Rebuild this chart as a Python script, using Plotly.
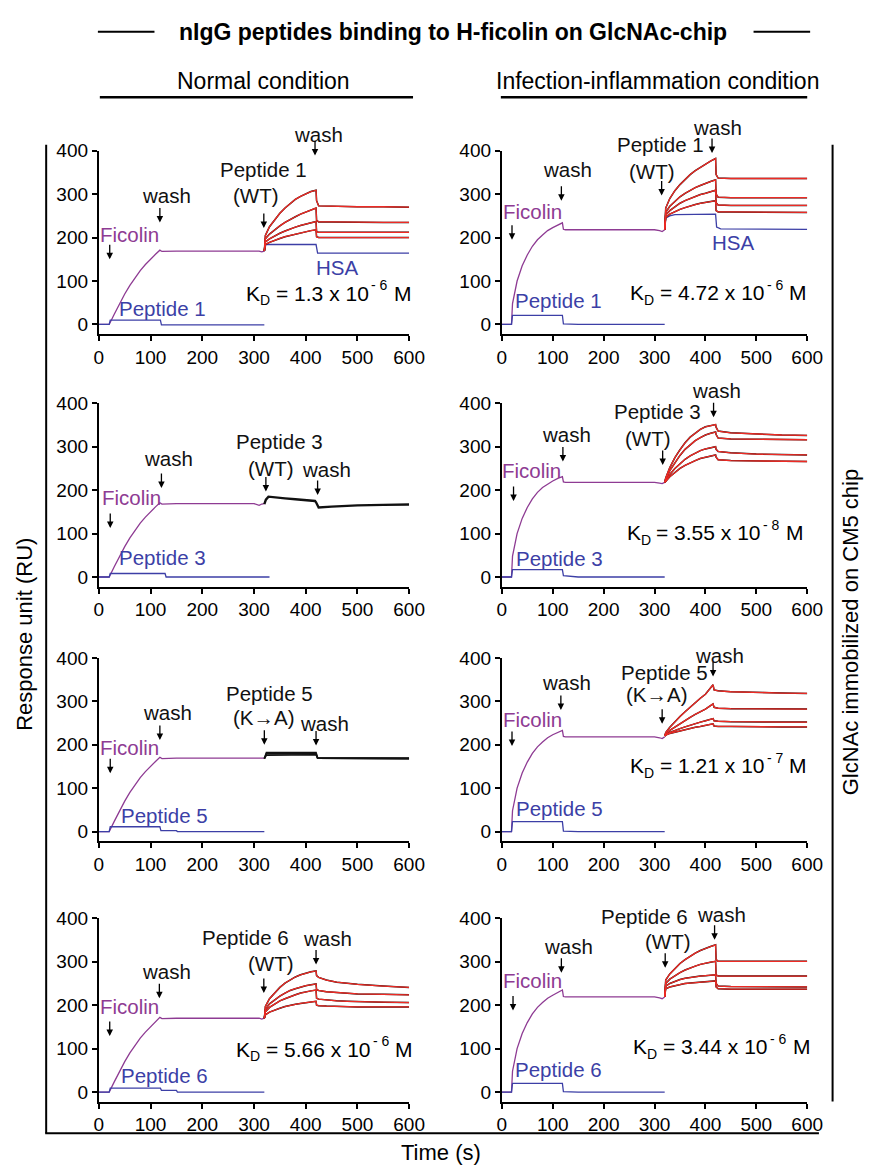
import plotly.graph_objects as go

# ---------------- data ----------------
TIME_TICKS = [0, 100, 200, 300, 400, 500, 600]
RU_TICKS = [0, 100, 200, 300, 400]

T_FIC_N = [0, 20, 30, 40, 50, 60, 70, 80, 90, 100, 110, 118, 122, 150, 200, 250, 300, 310, 315, 320]
FIC_N1 = [0, 0, 24, 48, 70, 90, 108, 124, 138, 151, 162, 171, 168, 169, 169, 169, 169, 169, 167, 169]
FIC_N2 = [0, 0, 24, 48, 70, 90, 108, 124, 138, 151, 162, 171, 168, 169, 169, 169, 169, 165, 168, 169]
FIC_N3 = [0, 0, 24, 48, 70, 90, 108, 124, 138, 151, 162, 171, 168, 169, 169, 169, 169, 169, 168, 169]
FIC_N4 = [0, 0, 24, 48, 70, 90, 108, 124, 138, 151, 162, 172, 169, 170, 170, 170, 170, 170, 168, 170]

T_FIC_I = [0, 19, 21, 25, 30, 40, 50, 60, 70, 80, 90, 100, 110, 119, 121, 125, 150, 200, 250, 300, 310, 315, 320]
FIC_I1 = [0, 0, 48, 75, 100, 135, 160, 180, 195, 206, 216, 223, 229, 234, 219, 218, 218, 218, 218, 218, 216, 214, 218]
FIC_I2 = [0, 0, 48, 75, 100, 135, 160, 180, 195, 206, 214, 221, 227, 231, 219, 218, 218, 218, 218, 218, 216, 215, 218]
FIC_I3 = [0, 0, 48, 75, 100, 135, 160, 180, 195, 206, 216, 223, 229, 233, 219, 218, 218, 218, 218, 218, 216, 214, 218]
FIC_I4 = [0, 0, 48, 75, 100, 135, 160, 180, 195, 206, 216, 223, 230, 235, 220, 219, 219, 219, 219, 219, 217, 215, 219]

T_PEP_N1 = [0, 20, 22, 119, 121, 320]
PEP_N1 = [0, 0, 10, 10, -1, -1]
T_PEP_N2 = [0, 20, 22, 128, 130, 330]
PEP_N2 = [0, 0, 8, 8, 0, 0]
T_PEP_N3 = [0, 20, 22, 118, 120, 150, 152, 320]
PEP_N3 = [0, 0, 11, 11, 2, 2, 0, 0]
T_PEP_N4 = [0, 20, 22, 119, 121, 150, 152, 320]
PEP_N4 = [0, 0, 9, 9, 4, 4, 0, 0]
T_PEP_I = [0, 19, 21, 119, 121, 150, 320]
PEP_I1 = [0, 0, 21, 21, 1, 0, 0]
PEP_I2 = [0, 0, 17, 17, 3, 0, 0]
PEP_I3 = [0, 0, 23, 23, 1, 0, 0]
PEP_I4 = [0, 0, 20, 20, 1, 0, 0]

T_HSA_N1 = [320, 323, 420, 423, 600]
HSA_N1 = [169, 184, 184, 164, 164]
T_HSA_I1 = [320, 322, 330, 340, 420, 422, 430, 600]
HSA_I1 = [218, 245, 250, 253, 254, 224, 220, 219]

T_PEP = [320, 322, 330, 340, 350, 360, 370, 380, 390, 400, 410, 420, 421, 425, 450, 500, 550, 600]
N1_C1 = [169, 205, 225, 242, 256, 268, 279, 288, 295, 301, 306, 309, 285, 273, 272, 271, 271, 270]
N1_C2 = [169, 197, 208, 218, 227, 235, 242, 248, 254, 259, 264, 268, 240, 236, 236, 235, 235, 235]
N1_C3 = [169, 190, 197, 204, 210, 215, 220, 224, 228, 231, 234, 237, 214, 212, 212, 212, 212, 212]
N1_C4 = [169, 184, 189, 194, 198, 202, 205, 208, 211, 213, 216, 218, 202, 200, 200, 200, 200, 200]

T_N2 = [320, 323, 328, 340, 360, 380, 400, 418, 420, 425, 450, 500, 550, 600]
N2_D = [168, 178, 185, 183, 181, 179, 177, 175, 172, 160, 162, 165, 166, 167]

T_N3 = [320, 322, 324, 420, 423, 600]
N3_D1 = [168, 176, 182, 182, 170, 169]
N3_D2 = [168, 175, 179, 179, 169, 168]
N3_D3 = [168, 174, 176, 177, 169, 168]

T_N4 = [320, 322, 330, 340, 350, 360, 370, 380, 390, 400, 410, 420, 421, 425, 440, 460, 480, 500, 550, 600]
N4_C1 = [170, 197, 215, 229, 241, 251, 259, 265, 270, 274, 277, 279, 268, 264, 258, 253, 250, 248, 244, 241]
N4_C2 = [170, 190, 203, 213, 221, 228, 234, 238, 242, 245, 247, 249, 236, 234, 231, 229, 227, 226, 225, 224]
N4_C3 = [170, 185, 195, 203, 210, 215, 220, 224, 228, 231, 233, 235, 216, 214, 212, 210, 209, 208, 207, 206]
N4_C4 = [170, 178, 184, 189, 193, 197, 200, 202, 204, 206, 208, 209, 200, 199, 198, 197, 197, 196, 196, 196]

I1_C1 = [218, 268, 290, 308, 322, 334, 345, 354, 362, 370, 376, 382, 345, 337, 336, 336, 336, 336]
I1_C2 = [218, 258, 272, 284, 294, 302, 309, 315, 320, 325, 329, 333, 300, 293, 292, 292, 292, 292]
I1_C3 = [218, 252, 262, 271, 279, 285, 290, 295, 299, 302, 306, 309, 280, 275, 274, 274, 274, 274]
I1_C4 = [218, 246, 254, 260, 265, 269, 273, 276, 279, 281, 283, 285, 262, 259, 259, 259, 258, 258]

I2_C1 = [218, 228, 252, 275, 293, 309, 322, 332, 340, 346, 349, 351, 345, 336, 332, 329, 327, 326]
I2_C2 = [218, 225, 245, 264, 280, 294, 305, 314, 321, 327, 331, 334, 328, 320, 318, 317, 316, 316]
I2_C3 = [218, 222, 236, 250, 261, 271, 279, 286, 291, 295, 298, 300, 294, 289, 286, 283, 282, 281]
I2_C4 = [218, 220, 231, 241, 250, 257, 263, 268, 273, 276, 279, 281, 276, 270, 268, 267, 266, 266]

T_I3 = [320, 322, 330, 340, 350, 360, 370, 380, 390, 400, 410, 415, 417, 425, 450, 500, 550, 600]
I3_C1 = [220, 228, 240, 253, 265, 276, 287, 297, 307, 316, 330, 338, 326, 324, 322, 320, 319, 318]
I3_C2 = [220, 225, 233, 241, 249, 256, 263, 270, 276, 282, 290, 294, 286, 284, 283, 283, 282, 282]
I3_C3 = [220, 223, 228, 233, 237, 241, 245, 249, 252, 255, 258, 260, 255, 254, 253, 252, 252, 252]
I3_C4 = [220, 222, 226, 229, 232, 235, 238, 240, 242, 244, 246, 248, 243, 242, 242, 241, 241, 241]

I4_C1 = [219, 258, 272, 285, 296, 305, 313, 320, 326, 331, 335, 339, 305, 301, 301, 301, 301, 301]
I4_C2 = [219, 250, 260, 268, 275, 281, 286, 290, 294, 297, 299, 301, 270, 267, 267, 267, 267, 267]
I4_C3 = [219, 244, 250, 255, 259, 262, 264, 266, 267, 268, 269, 270, 250, 244, 243, 243, 242, 242]
I4_C4 = [219, 238, 242, 245, 248, 250, 251, 252, 253, 254, 255, 256, 242, 238, 237, 237, 237, 237]

# K_D values: (mantissa, exponent)
KD_N1 = ("1.3", "6")
KD_N4 = ("5.66", "6")
KD_I1 = ("4.72", "6")
KD_I2 = ("3.55", "8")
KD_I3 = ("1.21", "7")
KD_I4 = ("3.44", "6")

# ---------------- styling ----------------
PAGE_MARGIN = 8
W, H = 880 - 2 * PAGE_MARGIN, 1173 - 2 * PAGE_MARGIN
FONT = "Arial, Liberation Sans, Helvetica, sans-serif"
PURPLE = "#8E3B93"
BLUE = "#3C3FA6"
RED = "#EE2A24"
BLACK = "#111111"
ANN_SIZE = 20.5
KD_SIZE, KD_SMALL = 21, 14

COLS_PX = [(96, 414), (509, 822)]
ROWS_PX = [(142, 327), (397, 582), (654, 839), (917, 1102)]
Y_LO, Y_HI = -22, 400
PX_PER_RU = (327 - 142) / (Y_HI - Y_LO)

# Arial / Liberation Sans advance widths (em)
CHAR_W = {"K": .667, "D": .722, " ": .278, "=": .584, ".": .278, "x": .5, "-": .333, "M": .833}


def text_w(s, size):
    return sum(CHAR_W.get(ch, .556) for ch in s) * size


def px(xp):
    return (xp - PAGE_MARGIN) / W


def py(yp):
    return 1 - (yp - PAGE_MARGIN) / H


fig = go.Figure()

panels = [
    dict(r=0, c=0, ft=T_FIC_N, fy=FIC_N1, pt=T_PEP_N1, py_=PEP_N1,
         curves=[(T_PEP, N1_C1), (T_PEP, N1_C2), (T_PEP, N1_C3), (T_PEP, N1_C4)], fit=True,
         hsa=(T_HSA_N1, HSA_N1)),
    dict(r=1, c=0, ft=T_FIC_N, fy=FIC_N2, pt=T_PEP_N2, py_=PEP_N2,
         curves=[(T_N2, N2_D)], fit=False, hsa=None, bw=2.4),
    dict(r=2, c=0, ft=T_FIC_N, fy=FIC_N3, pt=T_PEP_N3, py_=PEP_N3,
         curves=[(T_N3, N3_D1), (T_N3, N3_D2), (T_N3, N3_D3)], fit=False, hsa=None, bw=1.6),
    dict(r=3, c=0, ft=T_FIC_N, fy=FIC_N4, pt=T_PEP_N4, py_=PEP_N4,
         curves=[(T_N4, N4_C1), (T_N4, N4_C2), (T_N4, N4_C3), (T_N4, N4_C4)], fit=True, hsa=None),
    dict(r=0, c=1, ft=T_FIC_I, fy=FIC_I1, pt=T_PEP_I, py_=PEP_I1,
         curves=[(T_PEP, I1_C1), (T_PEP, I1_C2), (T_PEP, I1_C3), (T_PEP, I1_C4)], fit=True,
         hsa=(T_HSA_I1, HSA_I1)),
    dict(r=1, c=1, ft=T_FIC_I, fy=FIC_I2, pt=T_PEP_I, py_=PEP_I2,
         curves=[(T_PEP, I2_C1), (T_PEP, I2_C2), (T_PEP, I2_C3), (T_PEP, I2_C4)], fit=True, hsa=None),
    dict(r=2, c=1, ft=T_FIC_I, fy=FIC_I3, pt=T_PEP_I, py_=PEP_I3,
         curves=[(T_I3, I3_C1), (T_I3, I3_C2), (T_I3, I3_C3), (T_I3, I3_C4)], fit=True, hsa=None),
    dict(r=3, c=1, ft=T_FIC_I, fy=FIC_I4, pt=T_PEP_I, py_=PEP_I4,
         curves=[(T_PEP, I4_C1), (T_PEP, I4_C2), (T_PEP, I4_C3), (T_PEP, I4_C4)], fit=True, hsa=None),
]

ANN = {
    (0, 0): dict(texts=[("Ficolin", 60, 208, PURPLE), ("wash", 130, 296, BLACK), ("Peptide 1", 318, 357, BLACK),
                        ("(WT)", 303, 296, BLACK), ("wash", 425, 438, BLACK), ("HSA", 460, 131, BLUE),
                        ("Peptide 1", 123, 36, BLUE)],
                 arrows=[(21, 150), (118, 235), (319, 222), (418, 389)], kd=(KD_N1, 441, 72)),
    (1, 0): dict(texts=[("Ficolin", 63, 182, PURPLE), ("wash", 134, 274, BLACK), ("Peptide 3", 349, 312, BLACK),
                        ("(WT)", 333, 251, BLACK), ("wash", 440, 247, BLACK), ("Peptide 3", 124, 44, BLUE)],
                 arrows=[(22, 113), (121, 205), (323, 197), (423, 189)], kd=None),
    (2, 0): dict(texts=[("Ficolin", 60, 194, PURPLE), ("wash", 133, 275, BLACK), ("Peptide 5", 330, 317, BLACK),
                        ("(K\u2192A)", 319, 263, BLACK), ("wash", 436, 248, BLACK), ("Peptide 5", 127, 37, BLUE)],
                 arrows=[(22, 134), (118, 211), (320, 200), (420, 198)], kd=None),
    (3, 0): dict(texts=[("Ficolin", 60, 197, PURPLE), ("wash", 131, 277, BLACK), ("Peptide 6", 284, 357, BLACK),
                        ("(WT)", 333, 296, BLACK), ("wash", 442, 353, BLACK), ("Peptide 6", 127, 38, BLUE)],
                 arrows=[(21, 129), (117, 216), (319, 228), (420, 294)], kd=(KD_N4, 432, 99)),
    (0, 1): dict(texts=[("Ficolin", 60, 261, PURPLE), ("wash", 129, 356, BLACK), ("Peptide 1", 311, 414, BLACK),
                        ("(WT)", 296, 352, BLACK), ("wash", 424, 454, BLACK), ("HSA", 455, 188, BLUE),
                        ("Peptide 1", 112, 54, BLUE)],
                 arrows=[(20, 195), (117, 285), (314, 297), (413, 395)], kd=(KD_I1, 421, 73)),
    (1, 1): dict(texts=[("Ficolin", 59, 245, PURPLE), ("wash", 128, 329, BLACK), ("Peptide 3", 305, 380, BLACK),
                        ("(WT)", 288, 319, BLACK), ("wash", 421, 429, BLACK), ("Peptide 3", 114, 42, BLUE)],
                 arrows=[(23, 175), (120, 266), (316, 258), (416, 368)], kd=(KD_I2, 415, 102)),
    (2, 1): dict(texts=[("Ficolin", 60, 258, PURPLE), ("wash", 127, 343, BLACK), ("Peptide 5", 319, 366, BLACK),
                        ("(K\u2192A)", 305, 315, BLACK), ("wash", 427, 406, BLACK), ("Peptide 5", 113, 52, BLUE)],
                 arrows=[(20, 197), (116, 280), (315, 248), (415, 357)], kd=(KD_I3, 421, 151)),
    (3, 1): dict(texts=[("Ficolin", 61, 256, PURPLE), ("wash", 131, 336, BLACK), ("Peptide 6", 280, 404, BLACK),
                        ("(WT)", 327, 347, BLACK), ("wash", 431, 408, BLACK), ("Peptide 6", 111, 51, BLUE)],
                 arrows=[(22, 188), (117, 275), (321, 286), (418, 351)], kd=(KD_I4, 428, 104)),
}


def text_ann(txt, tx, ty, xa, ya, col, size, xanchor="center", xshift=0.0, yshift=0.0):
    yy = min(ty, Y_HI - 2)
    shift = (ty - yy) * PX_PER_RU + yshift
    return dict(text=txt, x=tx, y=yy, xshift=xshift, yshift=shift, xref=xa, yref=ya, showarrow=False,
                xanchor=xanchor, yanchor="middle", font=dict(family=FONT, size=size, color=col))


def kd_anns(kd, kx, ky, xa, ya):
    mant, expo = kd
    parts = [("K", KD_SIZE, 0, 0), ("D", KD_SMALL, -7, 0), ("= " + mant + " x 10", KD_SIZE, 0, 0.278 * KD_SIZE),
             ("- " + expo, KD_SMALL, 8, 0.12 * KD_SIZE), ("M", KD_SIZE, 0, 0.3 * KD_SIZE)]
    total = sum(text_w(s, sz) + gap for (s, sz, _, gap) in parts)
    pos = -total / 2
    out = []
    for (s, sz, dy, gap) in parts:
        pos += gap
        out.append(text_ann(s, kx, ky, xa, ya, "black", sz, xanchor="left", xshift=pos, yshift=dy))
        pos += text_w(s, sz)
    return out


annotations = []
layout_axes = {}
for i, p in enumerate(panels):
    n = i + 1
    xa = "x" if n == 1 else f"x{n}"
    ya = "y" if n == 1 else f"y{n}"
    xk = "xaxis" if n == 1 else f"xaxis{n}"
    yk = "yaxis" if n == 1 else f"yaxis{n}"
    (x0p, x1p) = COLS_PX[p["c"]]
    (y0p, y1p) = ROWS_PX[p["r"]]
    common = dict(showgrid=False, zeroline=False, showline=True, linecolor="black", linewidth=2,
                  ticks="outside", ticklen=5, tickwidth=2, tickcolor="black",
                  tickfont=dict(family=FONT, size=19, color="black"))
    layout_axes[xk] = dict(domain=[px(x0p), px(x1p)], range=[0, 600], anchor=ya,
                           tickvals=TIME_TICKS, **common)
    layout_axes[yk] = dict(domain=[py(y1p), py(y0p)], range=[Y_LO, Y_HI], anchor=xa,
                           tickvals=RU_TICKS, **common)

    fig.add_trace(go.Scatter(x=p["ft"], y=p["fy"], mode="lines", line=dict(color=PURPLE, width=1.3),
                             xaxis=xa, yaxis=ya, showlegend=False, hoverinfo="skip"))
    fig.add_trace(go.Scatter(x=p["pt"], y=p["py_"], mode="lines", line=dict(color=BLUE, width=1.3),
                             xaxis=xa, yaxis=ya, showlegend=False, hoverinfo="skip"))
    if p["hsa"]:
        fig.add_trace(go.Scatter(x=p["hsa"][0], y=p["hsa"][1], mode="lines", line=dict(color=BLUE, width=1.3),
                                 xaxis=xa, yaxis=ya, showlegend=False, hoverinfo="skip"))
    bw = p.get("bw", 1.5)
    for (tt, yy) in p["curves"]:
        fig.add_trace(go.Scatter(x=tt, y=yy, mode="lines", line=dict(color=BLACK, width=bw),
                                 xaxis=xa, yaxis=ya, showlegend=False, hoverinfo="skip"))
    if p["fit"]:
        for (tt, yy) in p["curves"]:
            fig.add_trace(go.Scatter(x=tt, y=yy, mode="lines", line=dict(color=RED, width=1.3),
                                     xaxis=xa, yaxis=ya, showlegend=False, hoverinfo="skip"))

    spec = ANN[(p["r"], p["c"])]
    for (txt, tx, ty, col) in spec["texts"]:
        annotations.append(text_ann(txt, tx, ty, xa, ya, col, ANN_SIZE))
    for (ax_, ay_) in spec["arrows"]:
        annotations.append(dict(text="", x=ax_, y=ay_, xref=xa, yref=ya, showarrow=True,
                                ax=0, ay=-16, arrowhead=2, arrowsize=1, arrowwidth=1.3,
                                arrowcolor="black", standoff=0, startstandoff=0))
    if spec["kd"]:
        kd, kx, ky = spec["kd"]
        annotations += kd_anns(kd, kx, ky, xa, ya)

annotations += [
    dict(text="<b>nIgG peptides binding to H-ficolin on GlcNAc-chip</b>", x=px(459), y=py(22),
         xref="paper", yref="paper", showarrow=False, xanchor="center", yanchor="middle",
         font=dict(family=FONT, size=23, color="black")),
    dict(text="Normal condition", x=px(265), y=py(72), xref="paper", yref="paper", showarrow=False,
         xanchor="center", yanchor="middle", font=dict(family=FONT, size=23, color="black")),
    dict(text="Infection-inflammation condition", x=px(669), y=py(72), xref="paper", yref="paper",
         showarrow=False, xanchor="center", yanchor="middle", font=dict(family=FONT, size=23, color="black")),
    dict(text="Time (s)", x=px(447), y=py(1153), xref="paper", yref="paper", showarrow=False,
         xanchor="center", yanchor="middle", font=dict(family=FONT, size=22, color="black")),
    dict(text="Response unit (RU)", x=px(19), y=py(630), xref="paper", yref="paper", showarrow=False,
         textangle=-90, xanchor="center", yanchor="middle", font=dict(family=FONT, size=22, color="black")),
    dict(text="GlcNAc immobilized on CM5 chip", x=px(866), y=py(628), xref="paper", yref="paper",
         showarrow=False, textangle=-90, xanchor="center", yanchor="middle",
         font=dict(family=FONT, size=22, color="black")),
]

line = dict(color="black", width=2)
shapes = [
    dict(type="line", xref="paper", yref="paper", x0=px(95), x1=px(153), y0=py(22), y1=py(22), line=line),
    dict(type="line", xref="paper", yref="paper", x0=px(767), x1=px(825), y0=py(22), y1=py(22), line=line),
    dict(type="line", xref="paper", yref="paper", x0=px(97), x1=px(418), y0=py(88), y1=py(88),
         line=dict(color="black", width=2.5)),
    dict(type="line", xref="paper", yref="paper", x0=px(508), x1=px(822), y0=py(88), y1=py(88),
         line=dict(color="black", width=2.5)),
    dict(type="line", xref="paper", yref="paper", x0=px(42), x1=px(42), y0=py(136), y1=py(1134), line=line),
    dict(type="line", xref="paper", yref="paper", x0=px(41), x1=px(834), y0=py(1134), y1=py(1134), line=line),
    dict(type="line", xref="paper", yref="paper", x0=px(848), x1=px(848), y0=py(136), y1=py(1102), line=line),
]

fig.update_layout(width=W, height=H, margin=dict(l=0, r=0, t=0, b=0), plot_bgcolor="white",
                  paper_bgcolor="white", showlegend=False, annotations=annotations, shapes=shapes,
                  font=dict(family=FONT, color="black"), **layout_axes)

fig.write_html("out.html")
